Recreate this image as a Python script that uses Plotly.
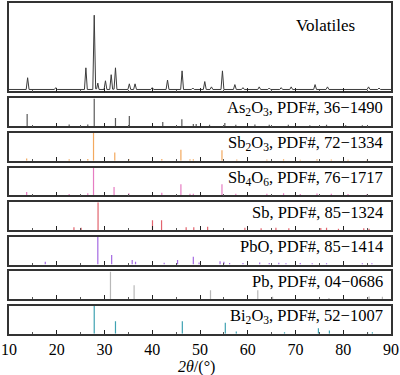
import plotly.graph_objects as go

# ---------------- data ----------------
# Volatiles XRD pattern (2theta, relative intensity)
vol_2theta = [10.0, 13.6, 13.9, 14.2, 19.5, 19.8, 20.1, 25.8, 26.1, 26.4, 27.55, 27.85, 28.15,
              28.35, 28.6, 28.85, 29.9, 30.2, 30.5, 31.1, 31.4, 31.7, 32.0, 32.3, 32.6,
              34.9, 35.2, 35.5, 36.1, 36.4, 36.7, 39.7, 40.0, 40.3, 42.9, 43.2, 43.5,
              45.95, 46.25, 46.55, 48.2, 48.5, 48.8, 50.7, 51.0, 51.3, 52.1, 52.4, 52.7,
              54.4, 54.7, 55.0, 57.0, 57.3, 57.6, 58.7, 59.0, 59.3, 62.1, 62.4, 62.7,
              64.2, 64.5, 64.8, 66.7, 67.0, 67.3, 68.8, 69.1, 69.4, 73.8, 74.1, 74.4,
              76.4, 76.7, 77.0, 85.0, 85.3, 85.6, 87.2, 87.5, 87.8, 90.0]
vol_int = [2.6, 2.6, 18, 2.6, 2.6, 5, 2.6, 2.6, 31, 2.6, 2.6, 100, 3.5,
           3.5, 11, 2.6, 2.6, 14, 2.6, 2.6, 22, 3.0, 3.0, 31, 2.6,
           2.6, 10, 2.6, 2.6, 10, 2.6, 2.6, 5, 2.6, 2.6, 15, 2.6,
           2.6, 27, 2.6, 2.6, 4.5, 2.6, 2.6, 13, 2.6, 2.6, 6, 2.6,
           2.6, 27, 2.6, 2.6, 9, 2.6, 2.6, 5, 2.6, 2.6, 6, 2.6,
           2.6, 4.5, 2.6, 2.6, 5, 2.6, 2.6, 6, 2.6, 2.6, 9, 2.6,
           2.6, 6, 2.6, 2.6, 6, 2.6, 2.6, 4.5, 2.6, 2.6]

# Reference stick patterns: positions (2theta) and relative intensities
as2o3_pos = [13.8, 22.6, 26.5, 27.85, 32.3, 35.2, 42.2, 46.2, 48.6, 49.2, 52.0, 55.2, 57.5,
             61.5, 64.5, 68.5, 73.0, 76.5, 80.5, 84.0]
as2o3_int = [44, 6, 6, 100, 30, 37, 15, 25, 8, 8, 5, 12, 5, 6, 5, 5, 4, 5, 4, 4]

sb2o3_pos = [13.7, 22.6, 26.5, 27.7, 32.15, 35.1, 42.0, 46.0, 47.9, 48.6, 54.6, 57.7, 64.0,
             67.5, 71.0, 74.5, 77.5, 81.0, 85.0]
sb2o3_int = [8, 6, 7, 100, 30, 7, 7, 40, 6, 6, 38, 5, 5, 6, 4, 6, 5, 4, 4]

sb4o6_pos = [13.7, 22.6, 26.5, 27.7, 32.0, 35.1, 42.0, 46.0, 47.9, 48.6, 54.6, 57.5, 64.0,
             67.5, 71.0, 74.5, 77.5, 81.0, 85.0]
sb4o6_int = [12, 5, 8, 100, 30, 8, 10, 40, 6, 6, 40, 6, 6, 8, 5, 7, 6, 5, 5]

sb_pos = [23.6, 25.1, 28.65, 40.05, 41.95, 47.1, 48.7, 51.6, 59.4, 62.8, 65.9, 68.6, 75.3,
          76.5, 79.0, 84.3, 85.4]
sb_int = [10, 8, 100, 35, 35, 10, 10, 12, 8, 6, 8, 6, 7, 8, 5, 6, 5]

pbo_pos = [17.6, 28.6, 31.5, 35.8, 36.5, 42.5, 45.3, 48.6, 49.8, 54.2, 55.0, 56.2, 59.0,
           62.5, 64.5, 66.5, 68.0, 71.0, 73.5, 76.5, 84.0, 86.0]
pbo_int = [10, 100, 35, 17, 10, 7, 17, 28, 8, 12, 10, 6, 6, 8, 6, 7, 5, 6, 5, 5, 5, 5]

pb_pos = [31.25, 36.2, 52.2, 62.1, 65.2, 77.0, 85.4, 88.2]
pb_int = [100, 50, 32, 32, 9, 4, 10, 9]

bi2o3_pos = [27.85, 32.3, 46.3, 55.3, 57.6, 67.7, 74.8, 77.1, 85.1, 86.1]
bi2o3_int = [100, 45, 45, 40, 8, 6, 20, 12, 6, 6]

panel_labels = ["Volatiles",
                "As<sub>2</sub>O<sub>3</sub>, PDF#, 36\u22121490",
                "Sb<sub>2</sub>O<sub>3</sub>, PDF#, 72\u22121334",
                "Sb<sub>4</sub>O<sub>6</sub>, PDF#, 76\u22121717",
                "Sb, PDF#, 85\u22121324",
                "PbO, PDF#, 85\u22121414",
                "Pb, PDF#, 04\u22120686",
                "Bi<sub>2</sub>O<sub>3</sub>, PDF#, 52\u22121007"]

x_ticks = [10, 20, 30, 40, 50, 60, 70, 80, 90]
x_title = "<i>2θ</i>/(°)"

# ---------------- layout geometry ----------------
W, H = 400, 375
ML, MR, MT, MB = 8, 8, 1, 41
PLOT_BOTTOM = H - MB
PLOT_H = H - MT - MB

def yfrac(px):
    return (PLOT_BOTTOM - px) / PLOT_H

def xfrac(px):
    return (px - ML) / (W - ML - MR)

panel_px = [(1, 90)]
for k in range(7):
    top = 97 + 34.8 * k
    panel_px.append((top, top + 28))

stick_sets = [(as2o3_pos, as2o3_int, "#5a5a5a"),
              (sb2o3_pos, sb2o3_int, "#f3a95e"),
              (sb4o6_pos, sb4o6_int, "#e67cc2"),
              (sb_pos, sb_int, "#e2646e"),
              (pbo_pos, pbo_int, "#a46ae2"),
              (pb_pos, pb_int, "#b8b8b8"),
              (bi2o3_pos, bi2o3_int, "#3fa2b2")]

FONT = "Liberation Serif, Times New Roman, serif"

fig = go.Figure()

# Volatiles pattern
fig.add_trace(go.Scatter(x=vol_2theta, y=vol_int, mode="lines",
                         line=dict(color="#3c3c3c", width=1),
                         xaxis="x", yaxis="y", showlegend=False, hoverinfo="skip"))

for i, (pos, inten, col) in enumerate(stick_sets, start=2):
    xs, ys = [], []
    for p, h in zip(pos, inten):
        xs += [p, p, None]
        ys += [0, h, None]
    fig.add_trace(go.Scatter(x=xs, y=ys, mode="lines",
                             line=dict(color=col, width=1.2),
                             xaxis=f"x{i}", yaxis=f"y{i}", showlegend=False,
                             hoverinfo="skip"))

layout = dict(width=W, height=H,
              margin=dict(l=ML, r=MR, t=MT, b=MB, pad=0),
              paper_bgcolor="white", plot_bgcolor="white",
              font=dict(family=FONT, size=16, color="black"),
              showlegend=False)

for i, (top, bot) in enumerate(panel_px, start=1):
    sfx = "" if i == 1 else str(i)
    last = (i == len(panel_px))
    layout[f"xaxis{sfx}"] = dict(
        domain=[0, 1], range=[10, 90], anchor=f"y{sfx}",
        showline=True, mirror=True, linecolor="#333333", linewidth=1.5,
        ticks="inside", ticklen=4, tickwidth=1.2, tickcolor="#222222",
        tickmode="array", tickvals=x_ticks, ticktext=[str(t) for t in x_ticks],
        minor=dict(ticks="inside", ticklen=2, tickwidth=1, tickcolor="#555555",
                   dtick=5, tick0=5, showgrid=False),
        showticklabels=last, showgrid=False, zeroline=False,
        tickfont=dict(family=FONT, size=16, color="black"),
        fixedrange=True)
    yr = [0, 116] if i == 1 else [0, 100]
    layout[f"yaxis{sfx}"] = dict(
        domain=[yfrac(bot), yfrac(top)], range=yr, anchor=f"x{sfx}",
        showline=True, mirror=True, linecolor="#333333", linewidth=1.5,
        ticks="", showticklabels=False, showgrid=False, zeroline=False,
        fixedrange=True)

annotations = []
# Volatiles label
annotations.append(dict(text=panel_labels[0], xref="paper", yref="paper",
                        x=xfrac(358), y=yfrac(24), xanchor="right", yanchor="middle",
                        showarrow=False, font=dict(family=FONT, size=17, color="black")))
for i in range(1, 8):
    top = panel_px[i][0]
    annotations.append(dict(text=panel_labels[i], xref="paper", yref="paper",
                            x=xfrac(386), y=yfrac(top + 10), xanchor="right",
                            yanchor="middle", showarrow=False,
                            font=dict(family=FONT, size=16.5, color="black")))
annotations.append(dict(text=x_title, xref="paper", yref="paper",
                        x=xfrac(196), y=yfrac(367), xanchor="center", yanchor="middle",
                        showarrow=False, font=dict(family=FONT, size=16, color="black")))
layout["annotations"] = annotations

fig.update_layout(**layout)
fig.write_html("out.html", config={"displayModeBar": False},
               post_script="document.body.style.margin='0';document.body.style.padding='0';")
